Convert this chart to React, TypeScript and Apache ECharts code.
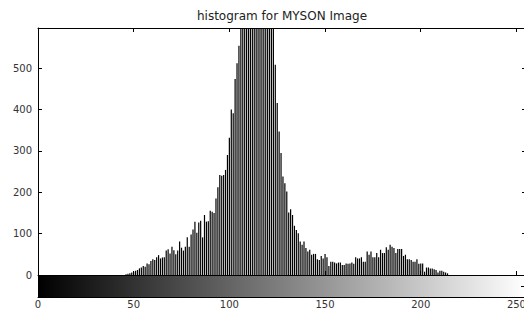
import React, { useEffect, useRef } from "react";
import * as echarts from "echarts";

const TITLE = "histogram for MYSON Image";
const X_MIN = 0;
const X_MAX = 255;
const X_INTERVAL = 50;
const Y_MIN = 0;
const Y_MAX = 597;
const Y_INTERVAL = 100;

// pixel counts for grey levels 0..255
const COUNTS = [
  0, 0, 0, 0, 0, 0, 0, 0, 0, 0,
  0, 0, 0, 0, 0, 0, 0, 0, 0, 0,
  0, 0, 0, 0, 0, 0, 0, 0, 0, 0,
  0, 0, 0, 0, 0, 0, 0, 0, 0, 0,
  0, 0, 0, 0, 0, 0, 2, 3, 4, 6,
  8, 10, 12, 16, 18, 22, 20, 28, 26, 34,
  38, 36, 43, 48, 40, 42, 43, 59, 62, 52,
  68, 60, 50, 59, 81, 66, 59, 68, 91, 68,
  98, 110, 129, 102, 127, 131, 91, 145, 129, 130,
  155, 153, 150, 185, 212, 242, 240, 242, 254, 290,
  332, 400, 391, 474, 512, 554, 620, 680, 740, 800,
  860, 900, 940, 960, 980, 990, 970, 940, 900, 860,
  800, 740, 680, 620, 508, 416, 347, 295, 238, 222,
  202, 151, 159, 145, 119, 109, 101, 81, 73, 81,
  65, 57, 61, 49, 51, 51, 38, 36, 46, 40,
  51, 43, 22, 32, 32, 30, 28, 30, 30, 24,
  24, 28, 27, 28, 30, 27, 43, 40, 40, 43,
  32, 32, 57, 49, 57, 43, 43, 53, 43, 61,
  53, 53, 67, 61, 73, 68, 65, 53, 63, 63,
  63, 46, 49, 38, 38, 36, 32, 32, 38, 27,
  28, 28, 8, 18, 18, 16, 16, 14, 12, 6,
  10, 10, 8, 6, 4, 0, 0, 0, 0, 0,
  0, 0, 0, 0, 0, 0, 0, 0, 0, 0,
  0, 0, 0, 0, 0, 0, 0, 0, 0, 0,
  0, 0, 0, 0, 0, 0, 0, 0, 0, 0,
  0, 0, 0, 0, 0, 0,
];

const FONT = "DejaVu Sans";
const LABEL_COLOR = "#333";

export default function App() {
  const ref = useRef<HTMLDivElement>(null);
  useEffect(() => {
    const chart = echarts.init(ref.current!, null, { renderer: "svg" });
    const data = COUNTS.map((c, i) => [i, c]).filter((d) => d[1] > 0);
    const line = { show: true, onZero: false, lineStyle: { color: "#000", width: 1 } };
    const tickIn = (len: number) => ({ show: true, inside: true, length: len, lineStyle: { color: "#000" } });
    const noLabel = { show: false };
    chart.setOption({
      animation: false,
      graphic: [
        {
          type: "text",
          x: 282,
          y: 16,
          style: {
            text: TITLE,
            align: "center",
            verticalAlign: "middle",
            fontFamily: FONT,
            fontSize: 12,
            fill: "#222",
          },
        },
      ],
      grid: [
        { left: 38, top: 28, width: 488, height: 247, show: false, outerBoundsMode: "none" },
        {
          left: 38,
          top: 275,
          width: 488,
          height: 22,
          show: true,
          borderWidth: 0,
          outerBoundsMode: "none",
          backgroundColor: new echarts.graphic.LinearGradient(0, 0, 1, 0, [
            { offset: 0, color: "#000" },
            { offset: 1, color: "#fff" },
          ]),
        },
      ],
      xAxis: [
        {
          gridIndex: 0, type: "value", min: X_MIN, max: X_MAX, interval: X_INTERVAL, position: "bottom",
          axisLine: line, axisTick: tickIn(4), axisLabel: noLabel, splitLine: { show: false },
        },
        {
          gridIndex: 0, type: "value", min: X_MIN, max: X_MAX, interval: X_INTERVAL, position: "top",
          axisLine: line, axisTick: tickIn(4), axisLabel: noLabel, splitLine: { show: false },
        },
        {
          gridIndex: 1, type: "value", min: X_MIN, max: X_MAX, interval: X_INTERVAL, position: "bottom",
          axisLine: line, axisTick: { show: false },
          axisLabel: {
            show: true, showMaxLabel: false, margin: 2, fontFamily: FONT, fontSize: 10, color: LABEL_COLOR,
          },
          splitLine: { show: false },
        },
      ],
      yAxis: [
        {
          gridIndex: 0, type: "value", min: Y_MIN, max: Y_MAX, interval: Y_INTERVAL, position: "left",
          axisLine: line, axisTick: tickIn(4),
          axisLabel: {
            show: true, showMaxLabel: false, margin: 6, fontFamily: FONT, fontSize: 10, color: LABEL_COLOR,
          },
          splitLine: { show: false },
        },
        {
          gridIndex: 0, type: "value", min: Y_MIN, max: Y_MAX, interval: Y_INTERVAL, position: "right",
          axisLine: line, axisTick: tickIn(4), axisLabel: noLabel, splitLine: { show: false },
        },
        {
          gridIndex: 1, type: "value", min: 0, max: 1, interval: 0.5, position: "left",
          axisLine: line, axisTick: { show: false }, axisLabel: noLabel, splitLine: { show: false },
        },
        {
          gridIndex: 1, type: "value", min: 0, max: 1, interval: 0.5, position: "right",
          axisLine: line, axisTick: tickIn(5), axisLabel: noLabel, splitLine: { show: false },
        },
      ],
      series: [
        {
          type: "bar",
          xAxisIndex: 0,
          yAxisIndex: 0,
          data,
          barWidth: 1.2,
          itemStyle: { color: "#000" },
          clip: true,
        },
      ],
    });
    return () => chart.dispose();
  }, []);
  return (
    <div
      ref={ref}
      style={{ position: "fixed", left: 0, top: 0, width: 524, height: 311, background: "#fff" }}
    />
  );
}
